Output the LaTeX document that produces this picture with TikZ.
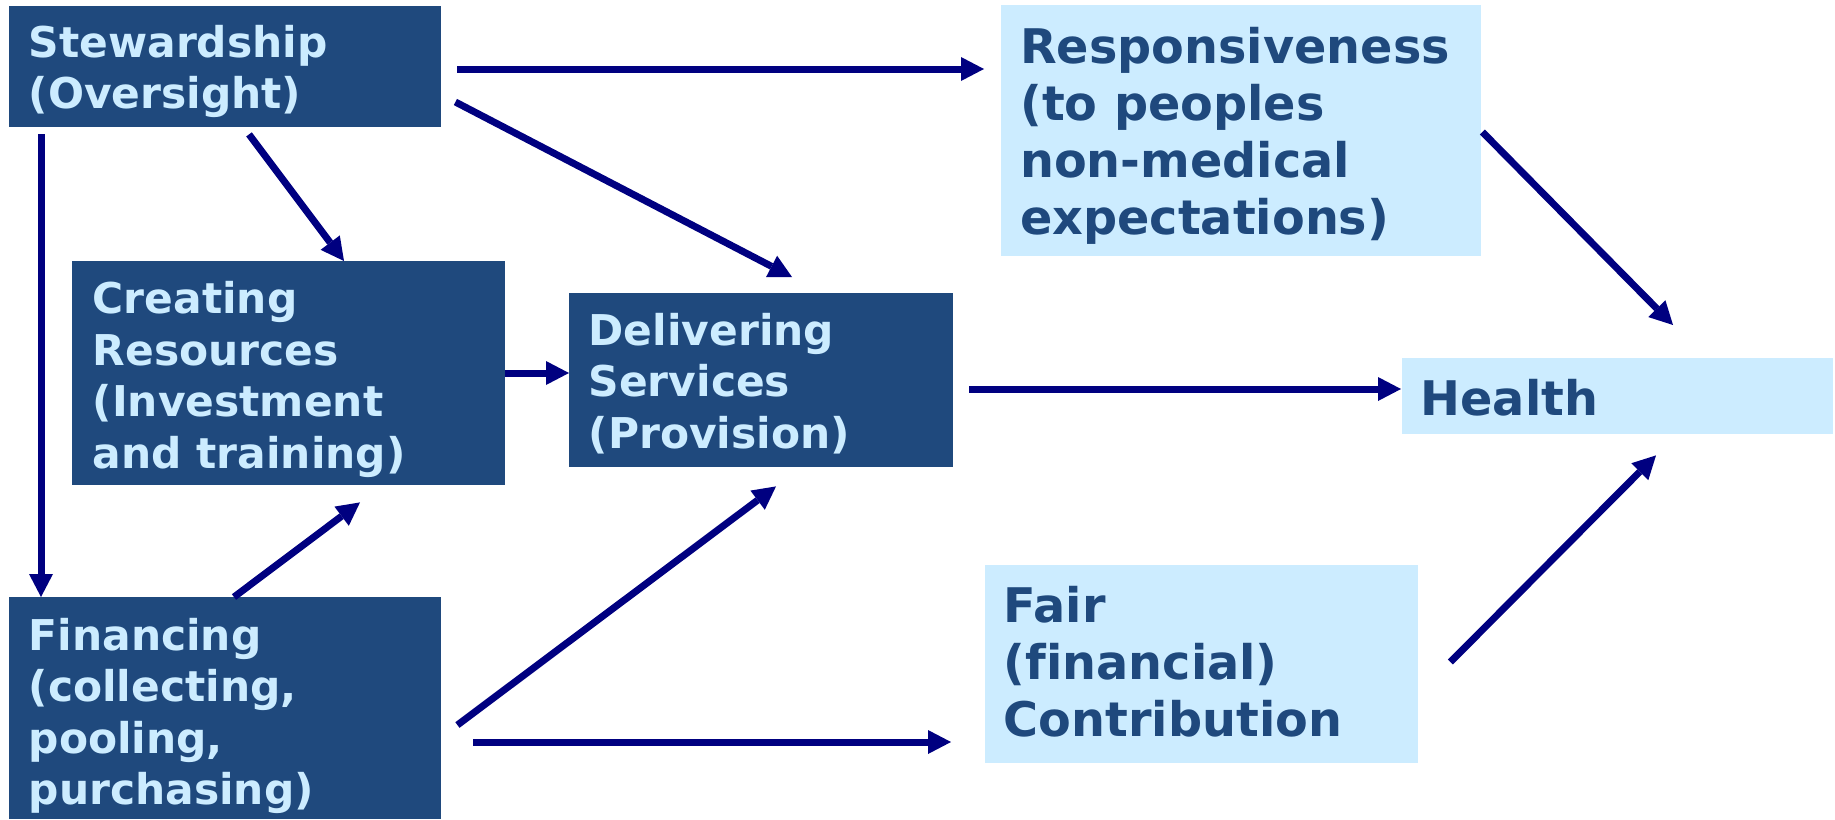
\documentclass[tikz,border=0pt]{standalone}
\usepackage{fontspec}
\setmainfont{DejaVu Sans}[Ligatures=NoCommon]
\usetikzlibrary{arrows.meta,calc}

\definecolor{boxdark}{RGB}{31,73,125}
\definecolor{boxlight}{RGB}{204,236,255}
\definecolor{arrownavy}{RGB}{0,0,128}

\tikzset{
  darkbox/.style={fill=boxdark, draw=none, anchor=north west, inner sep=0pt},
  lightbox/.style={fill=boxlight, draw=none, anchor=north west, inner sep=0pt},
  darklabel/.style={anchor=base west, inner sep=0pt, text=boxlight,
    font=\fontsize{42.4}{51.5}\selectfont\bfseries},
  lightlabel/.style={anchor=base west, inner sep=0pt, text=boxdark,
    font=\fontsize{47.7}{57}\selectfont\bfseries},
  flow/.style={draw=arrownavy, line width=7pt,
    -{Triangle[length=23pt,width=24pt,line width=0pt]}}
}
\newcommand{\lines}[1]{\begin{tabular}[t]{@{}l@{}}#1\end{tabular}}

\begin{document}
\begin{tikzpicture}[x=1pt,y=-1pt]
\useasboundingbox (0,0) rectangle (1835,819);

% functions of the health system (dark boxes)
\node[darkbox, minimum width=432pt, minimum height=121pt] (stew) at (9,6) {};
\node[darkbox, minimum width=433pt, minimum height=224pt] (creat) at (72,261) {};
\node[darkbox, minimum width=384pt, minimum height=174pt] (deliv) at (569,293) {};
\node[darkbox, minimum width=432pt, minimum height=222pt] (fin) at (9,597) {};

% objectives of the health system (light boxes)
\node[lightbox, minimum width=480pt, minimum height=251pt] (resp) at (1001,5) {};
\node[lightbox, minimum width=431pt, minimum height=76pt] (health) at (1402,358) {};
\node[lightbox, minimum width=433pt, minimum height=198pt] (fair) at (985,565) {};

% box texts
\node[darklabel] (stew-t) at ($(stew.north west)+(19.5,51)$)
  {\lines{Stewardship\\(Oversight)}};
\node[darklabel] (creat-t) at ($(creat.north west)+(20.5,52.5)$)
  {\lines{Creating\\Resources\\(Investment\\and training)}};
\node[darklabel] (deliv-t) at ($(deliv.north west)+(19.5,52)$)
  {\lines{Delivering\\Services\\(Provision)}};
\node[darklabel] (fin-t) at ($(fin.north west)+(19.5,53)$)
  {\lines{Financing\\(collecting,\\pooling,\\purchasing)}};
\node[lightlabel] (resp-t) at ($(resp.north west)+(19,58)$)
  {\lines{Responsiveness\\(to peoples\\non-medical\\expectations)}};
\node[lightlabel] (health-t) at ($(health.north west)+(18.5,57)$)
  {\lines{Health}};
\node[lightlabel] (fair-t) at ($(fair.north west)+(18.5,57.5)$)
  {\lines{Fair\\(financial)\\Contribution}};

% connector ends, set just off the box edges
\coordinate (s2r-a) at ($(stew.north east)+(16,63)$);
\coordinate (s2r-b) at ($(resp.north west)+(-17,64)$);
\coordinate (s2d-a) at ($(stew.north east)+(14,96)$);
\coordinate (s2d-b) at ($(deliv.north west)+(223,-16)$);
\coordinate (s2c-a) at ($(stew.south west)+(240,7)$);
\coordinate (s2c-b) at ($(creat.north west)+(272,0)$);
\coordinate (s2f-a) at ($(stew.south west)+(32,7)$);
\coordinate (s2f-b) at ($(fin.north west)+(32,0)$);
\coordinate (c2d-a) at ($(creat.north east)+(0,112)$);
\coordinate (c2d-b) at ($(deliv.north west)+(0,80)$);
\coordinate (f2c-a) at ($(fin.north west)+(225,0)$);
\coordinate (f2c-b) at ($(creat.south west)+(288,17)$);
\coordinate (f2d-a) at ($(fin.north east)+(16,128)$);
\coordinate (f2d-b) at ($(deliv.south west)+(207,19)$);
\coordinate (f2r-a) at ($(fin.north east)+(32,145)$);
\coordinate (f2r-b) at ($(fair.north west)+(-34,177)$);
\coordinate (d2h-a) at ($(deliv.north east)+(16,96)$);
\coordinate (d2h-b) at ($(health.north west)+(-1,31)$);
\coordinate (r2h-a) at ($(resp.north east)+(1,127)$);
\coordinate (r2h-b) at ($(health.north west)+(271,-33)$);
\coordinate (p2h-a) at ($(fair.north east)+(32,97)$);
\coordinate (p2h-b) at ($(health.south west)+(254,21)$);

% connectors
\draw[flow] (s2r-a) -- (s2r-b);
\draw[flow] (s2d-a) -- (s2d-b);
\draw[flow] (s2c-a) -- (s2c-b);
\draw[flow] (s2f-a) -- (s2f-b);
\draw[flow] (c2d-a) -- (c2d-b);
\draw[flow] (f2c-a) -- (f2c-b);
\draw[flow] (f2d-a) -- (f2d-b);
\draw[flow] (f2r-a) -- (f2r-b);
\draw[flow] (d2h-a) -- (d2h-b);
\draw[flow] (r2h-a) -- (r2h-b);
\draw[flow] (p2h-a) -- (p2h-b);
\end{tikzpicture}
\end{document}
